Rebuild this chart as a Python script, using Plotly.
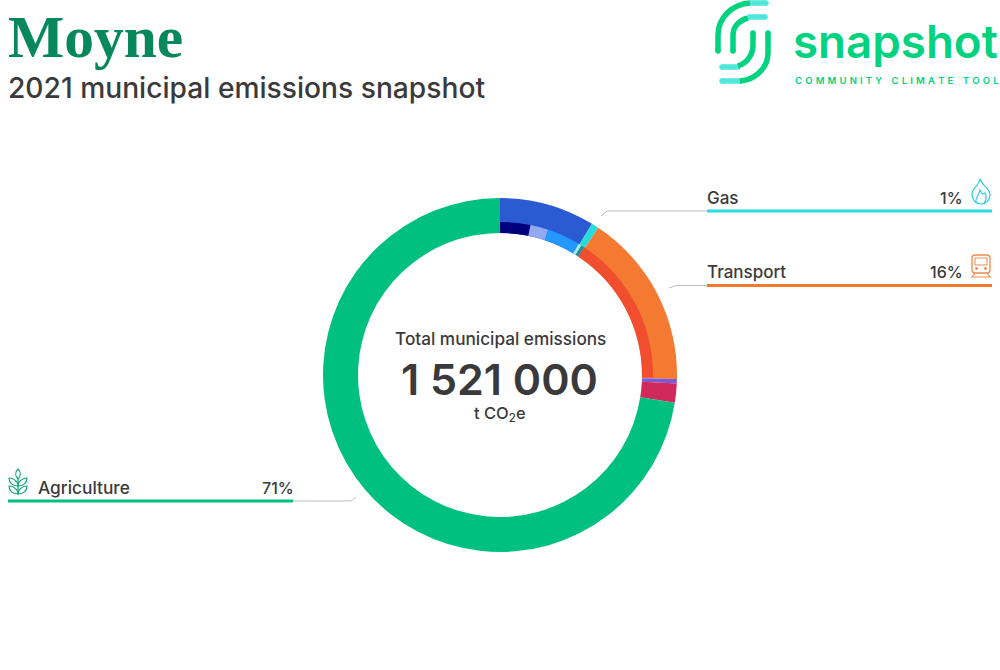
import plotly.graph_objects as go

# ---- data (share of municipal emissions, %) ----
sector_names = ["Electricity", "Gas", "Transport", "Waste", "Industry", "Agriculture"]
sector_values = [8.7, 0.67, 16.0, 0.4, 1.75, 72.5]
sector_colors = ["#2a5bd3", "#27dcdc", "#f47a31", "#7b5ad6", "#d02a5c", "#00c07f"]

detail_names = ["Residential", "Commercial", "Industrial", "Gas residential", "Gas commercial", "Road", "rest"]
detail_values = [3.2, 1.9, 3.5, 0.33, 0.34, 16.0, 74.73]
detail_colors = ["#00007e", "#92a9f2", "#2398ff", "#a6ecec", "#2a8c9c", "#f14d2f", "rgba(0,0,0,0)"]

callout_names = ["Gas", "Transport", "Agriculture"]
callout_shares = ["1%", "16%", "71%"]
callout_colors = ["#27dcdc", "#f47a31", "#00c07f"]

total_label = "1 521 000"

INK = "#3a3a3c"
W, H = 1000, 670
CX, CY, R_OUT, R_IN, R_DETAIL = 500, 375, 177, 142, 153


def px(x):
    return x / W


def py(y):
    return 1 - y / H


def dom(r):
    return dict(x=[px(CX - r), px(CX + r)], y=[py(CY + r), py(CY - r)])


fig = go.Figure()
fig.add_trace(go.Pie(labels=sector_names, values=sector_values, sort=False, direction="clockwise",
                     rotation=0, hole=R_IN / R_OUT, domain=dom(R_OUT), textinfo="none", hoverinfo="label+percent",
                     marker=dict(colors=sector_colors, line=dict(width=0)), showlegend=False))
fig.add_trace(go.Pie(labels=detail_names, values=detail_values, sort=False, direction="clockwise",
                     rotation=0, hole=R_IN / R_DETAIL, domain=dom(R_DETAIL), textinfo="none", hoverinfo="skip",
                     marker=dict(colors=detail_colors, line=dict(width=0)), showlegend=False))

shapes = []
annotations = []


def text(s, x, y, size, color=INK, anchor="left", family="Inter", weight=500):
    annotations.append(dict(text=s, x=px(x), y=py(y), xref="paper", yref="paper", xanchor=anchor, yanchor="middle",
                            showarrow=False, borderpad=0, borderwidth=0,
                            font=dict(size=size, color=color, family=family, weight=weight)))


def conv(points):
    """Build an SVG path from commands written in page pixels."""
    out = points.split()
    res, i = [], 0
    while i < len(out):
        if out[i].isalpha():
            res.append(out[i])
            i += 1
        else:
            res.append(f"{px(float(out[i])):.5f},{py(float(out[i + 1])):.5f}")
            i += 2
    return " ".join(res)


def path(d, color, width, fill=None):
    shapes.append(dict(type="path", xref="paper", yref="paper", path=conv(d),
                       line=dict(color=color, width=width), fillcolor=fill or "rgba(0,0,0,0)"))


def hline(x0, x1, y, color, width):
    shapes.append(dict(type="line", xref="paper", yref="paper", x0=px(x0), x1=px(x1), y0=py(y), y1=py(y),
                       line=dict(color=color, width=width)))


def dot(x, y, r, color):
    shapes.append(dict(type="circle", xref="paper", yref="paper", x0=px(x - r), x1=px(x + r), y0=py(y - r),
                       y1=py(y + r), line=dict(width=0), fillcolor=color))


# ---- leaders and call-out bars ----
GREY = "#bdbdbd"
path("M 707 211 L 607 211 L 601 216", GREY, 1)
path("M 707 285.5 L 676 285.5 L 669 288", GREY, 1)
path("M 293 501 L 351 501 L 356 497", GREY, 1)
hline(707, 992, 211, callout_colors[0], 3)
hline(707, 992, 285.5, callout_colors[1], 3)
hline(8, 293, 501, callout_colors[2], 3)

text(callout_names[0], 707, 197.5, 17)
text(callout_shares[0], 963, 197.5, 16, anchor="right")
text(callout_names[1], 707, 271.5, 17)
text(callout_shares[1], 963, 271.5, 16, anchor="right")
text(callout_names[2], 38, 487.5, 17.3)
text(callout_shares[2], 294, 487.5, 16, anchor="right")

# ---- header ----
text("Moyne", 8, 37, 59.5, color="#07885c", family="Liberation Serif", weight=700)
text("2021 municipal emissions snapshot", 8, 88, 28.2, weight=500)

# ---- centre ----
text("Total municipal emissions", 500, 338.5, 17.2, anchor="center")
text(total_label, 499, 379, 43, anchor="center", weight=600)
text("t CO<sub>2</sub>e", 500, 414, 16.5, anchor="center")

# ---- logo ----
TEAL, LOGO = "#4fe6dc", "#00d27f"
for d, ends in [("M 766 3 L 750 3", [(766, 3)]), ("M 765 17 L 748 17", [(765, 17)]),
                ("M 740 67 L 722 67", [(722, 67)]), ("M 742 81 L 722 81", [(722, 81)])]:
    path(d, TEAL, 5.5)
    for e in ends:
        dot(e[0], e[1], 2.75, TEAL)
for d, ends in [("M 750 3 C 732 4 718 18 718 35 L 718 51", [(718, 51)]),
                ("M 748 18 C 740 20 733 26 733 35 L 733 51", [(733, 51)]),
                ("M 753 33 L 753 45 C 753 55 747 63 738 66", [(753, 33)]),
                ("M 768 33 L 768 53 C 768 68 755 80 740 81", [(768, 33)])]:
    path(d, LOGO, 5.5)
    for e in ends:
        dot(e[0], e[1], 2.75, LOGO)
text("snapshot", 793, 42, 45.7, color=LOGO, weight=600)
text("\u2004".join("COMMUNITY") + "\u2003" + "\u2004".join("CLIMATE") + "\u2003" + "\u2004".join("TOOL"),
     795, 81, 9.5, color=LOGO, weight=600)

# ---- icons ----
FL = "#27cfe0"
path("M 980 179 C 982 186 990 188 990 195 C 990 200 986 204 981 204 C 976 204 972 200 972 194 C 972 188 979 186 980 179 Z", FL, 1.2)
path("M 976 203 C 975 197 979 196 980 190 C 982 194 983 195 985 193 C 987 196 986 201 984 203", FL, 1.2)
TR = "#ee8a4d"
path("M 975 255 L 987 255 C 989 255 990 256 990 258 L 990 270 C 990 272 989 273 987 273 L 975 273 C 973 273 972 272 972 270 L 972 258 C 972 256 973 255 975 255 Z", TR, 1.3)
path("M 975 258 L 987 258 L 987 265 L 975 265 Z", TR, 1)
dot(976.5, 268.5, 1.4, TR)
dot(985.5, 268.5, 1.4, TR)
path("M 975 273 L 972 277 M 987 273 L 990 277 M 971 277 L 991 277", TR, 1.2)
WH = "#17a97b"
path("M 18 469 C 21 472 21 476 18 479 C 15 476 15 472 18 469 Z", WH, 1.2)
path("M 18 479 L 18 494", WH, 1.2)
path("M 18 486 C 18 481 13 478 9 478 C 9 483 13 486 18 486 Z", WH, 1.2)
path("M 18 486 C 18 481 23 478 27 478 C 27 483 23 486 18 486 Z", WH, 1.2)
path("M 18 494 C 18 489 13 486 9 486 C 9 491 13 494 18 494 Z", WH, 1.2)
path("M 18 494 C 18 489 23 486 27 486 C 27 491 23 494 18 494 Z", WH, 1.2)

fig.update_layout(width=W, height=H, margin=dict(l=0, r=0, t=0, b=0), paper_bgcolor="white",
                  shapes=shapes, annotations=annotations, showlegend=False)
fig.write_html("out.html", config=dict(displayModeBar=False),
               post_script="document.body.style.margin='0';document.body.style.overflow='hidden';")
